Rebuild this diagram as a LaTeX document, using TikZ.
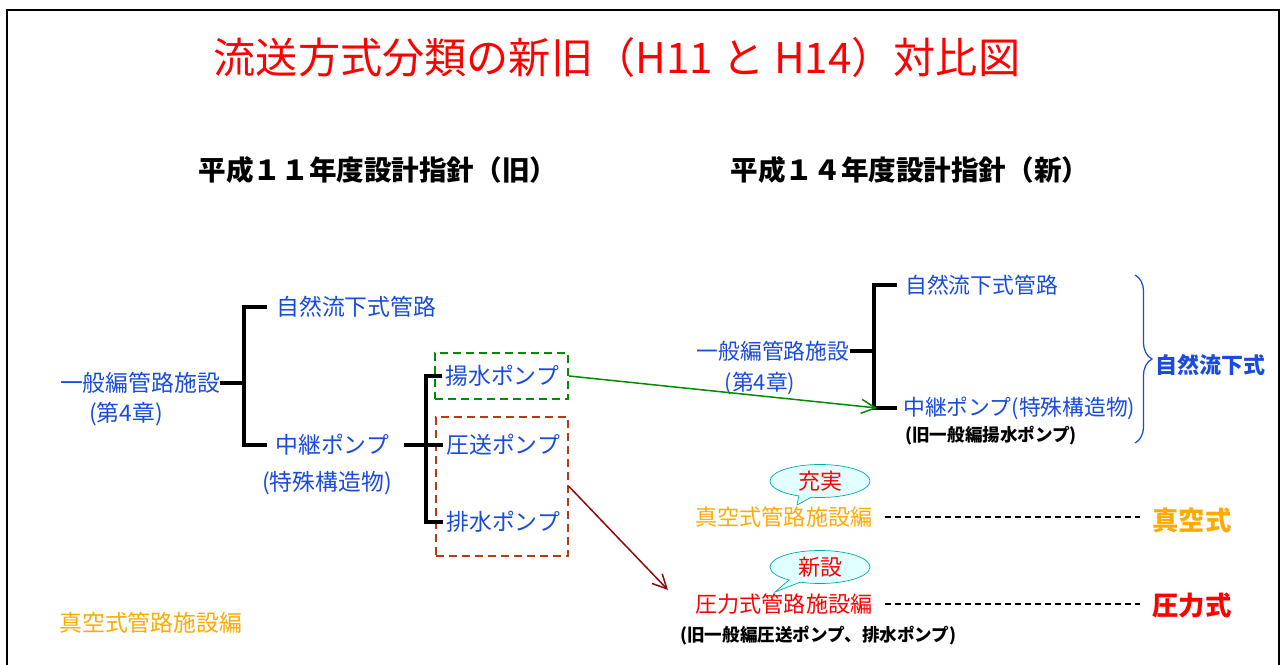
\documentclass[tikz,border=0pt]{standalone}
\usepackage{fontspec}
\setmainfont{Noto Sans CJK JP}
\usetikzlibrary{calc}
\usetikzlibrary{arrows.meta}
\usetikzlibrary{shapes.callouts}
\usetikzlibrary{decorations.pathreplacing}
\definecolor{custom-red}{RGB}{255, 0, 0}
\definecolor{custom-blue}{RGB}{25, 75, 220}
\definecolor{custom-orange}{RGB}{255, 170, 0}
\definecolor{custom-green}{RGB}{0, 140, 0}
\definecolor{custom-brown}{RGB}{180, 60, 20}
\definecolor{custom-darkred}{RGB}{140, 10, 10}
\definecolor{custom-cyan}{RGB}{225, 255, 255}
\definecolor{custom-teal}{RGB}{0, 170, 170}
\newcommand{\fsize}[1]{\fontsize{#1}{#1}\selectfont}

\begin{document}
\begin{tikzpicture}[x=0.02cm, y=-0.02cm,
    lbl/.style={inner sep=0pt, anchor=west},
    old-blue/.style={lbl, text=custom-blue, font=\fsize{13}},
    new-blue/.style={lbl, text=custom-blue, font=\fsize{12.4}},
    note/.style={lbl, font=\bfseries\fsize{10}},
    kind/.style={lbl, font=\bfseries\fsize{15}},
    tree/.style={line width=0.65mm},
    pumpbox/.style={line width=0.4mm, dash pattern=on 1.6mm off 1mm, inner sep=0pt},
    guide/.style={line width=0.3mm, dash pattern=on 1.2mm off 0.8mm},
    bubble/.style={ellipse callout, draw=custom-teal, fill=custom-cyan, text=custom-red,
      font=\fsize{12.5}, minimum width=2cm, minimum height=0.66cm, inner sep=0pt}]
\useasboundingbox (0,0) rectangle (1281,665);
\draw[line width=0.4mm] (7,665) -- (7,10) -- (1279,10) -- (1279,665);

\node[text=custom-red, font=\fsize{24}] (title) at (617,57) {流送方式分類の新旧（H11 と H14）対比図};
\node[font=\bfseries\fsize{15.7}] (head-old) at (378,170) {平成１１年度設計指針（旧）};
\node[font=\bfseries\fsize{15.7}] (head-new) at (910,170) {平成１４年度設計指針（新）};

% old (H11)
\node[old-blue, anchor=center] (gen-old) at (140,383) {一般編管路施設};
\node[old-blue, anchor=center] (chap-old) at (126,414) {(第4章)};
\node[old-blue] (nat-old) at (276,307) {自然流下式管路};
\node[old-blue] (relay-old) at (275,445) {中継ポンプ};
\node[old-blue, anchor=center] (spec-old) at (327,483) {(特殊構造物)};
\node[old-blue] (lift-old) at (445,376) {揚水ポンプ};
\node[old-blue] (press-old) at (446,445) {圧送ポンプ};
\node[old-blue] (drain-old) at (446,522) {排水ポンプ};
\node[lbl, text=custom-orange, font=\fsize{13}] (vac-old) at (59,623) {真空式管路施設編};

\node[pumpbox, draw=custom-green, minimum width=2.66cm, minimum height=0.92cm] (lift-box) at (501.5,376) {};
\node[pumpbox, draw=custom-brown, minimum width=2.64cm, minimum height=2.78cm] (pump-box) at (502,486.5) {};

\coordinate (fork-old) at (244,383);
\coordinate (fork-pump) at (426,445);
\draw[tree] (gen-old.east) -- (fork-old);
\draw[tree] ([xshift=-1.8mm]nat-old.west) -| (fork-old) |- ([xshift=-1.6mm]relay-old.west);
\draw[tree] ([xshift=3mm]relay-old.east) -- ([xshift=-0.6mm]press-old.west);
\draw[tree] ([xshift=-0.6mm]lift-old.west) -| (fork-pump) |- ([xshift=-0.6mm]drain-old.west);

% new (H14)
\node[new-blue, anchor=center] (gen-new) at (773,351) {一般編管路施設};
\node[new-blue, anchor=center] (chap-new) at (760,383) {(第4章)};
\node[new-blue] (nat-new) at (905,285) {自然流下式管路};
\node[new-blue] (relay-new) at (903,408) {中継ポンプ(特殊構造物)};
\node[note] (old-lift-new) at (905,436) {(旧一般編揚水ポンプ)};

\coordinate (fork-new) at (874,351);
\draw[tree] (gen-new.east) -- (fork-new);
\draw[tree] ([xshift=-1.6mm]nat-new.west) -| (fork-new) |- ([xshift=-1.2mm]relay-new.west);

\coordinate (brace-top) at (1135,275);
\coordinate (brace-bot) at (1135,443);
\draw[custom-blue, line width=0.25mm, decorate, decoration={brace, amplitude=3.4mm}] (brace-top) -- (brace-bot);
\node[lbl, text=custom-blue, font=\bfseries\fsize{12.5}] (nat-kind) at (1155,365) {自然流下式};

\node[lbl, text=custom-orange, font=\fsize{12.6}] (vac-new) at (695,517) {真空式管路施設編};
\node[lbl, text=custom-red, font=\fsize{12.6}] (press-new) at (695,604) {圧力式管路施設編};
\node[note] (old-press-new) at (680,636) {(旧一般編圧送ポンプ、排水ポンプ)};
\node[kind, text=custom-orange] (vac-kind) at (1152,520) {真空式};
\node[kind, text=custom-red] (press-kind) at (1152,606) {圧力式};

\draw[guide] ([xshift=2.4mm]vac-new.east) -- ([xshift=-2.4mm]vac-new.east -| vac-kind.west);
\draw[guide] ([xshift=2.4mm]press-new.east) -- ([xshift=-2.4mm]press-new.east -| press-kind.west);

\node[bubble, callout absolute pointer={(797,505)}] (full-bubble) at (820,481) {充実};
\node[bubble, callout absolute pointer={(775,592)}] (new-bubble) at (820,567) {新設};

% moves between the two editions
\draw[custom-green, line width=0.3mm, -{Straight Barb[length=2.8mm, width=2.8mm]}] (lift-box.east) -- ([xshift=-5.2mm]relay-new.west);
\draw[custom-darkred, line width=0.3mm, -{Straight Barb[length=2.8mm, width=2.8mm]}] (pump-box.east) -- ([shift={(-27,-14)}]press-new.west);
\end{tikzpicture}
\end{document}
